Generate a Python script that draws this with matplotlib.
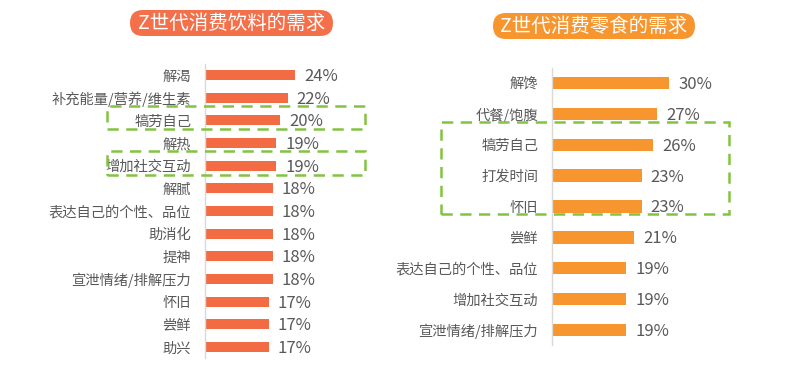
import matplotlib
matplotlib.use("Agg")
import matplotlib.pyplot as plt
from matplotlib.patches import FancyBboxPatch, Rectangle

plt.rcParams['font.family'] = ['Noto Sans CJK SC', 'DejaVu Sans']

# ---- data ----
drink_title = "Z世代消费饮料的需求"
drink_labels = ["解渴", "补充能量/营养/维生素", "犒劳自己", "解热", "增加社交互动", "解腻",
                "表达自己的个性、品位", "助消化", "提神", "宣泄情绪/排解压力", "怀旧", "尝鲜", "助兴"]
drink_values = [24, 22, 20, 19, 19, 18, 18, 18, 18, 18, 17, 17, 17]

snack_title = "Z世代消费零食的需求"
snack_labels = ["解馋", "代餐/饱腹", "犒劳自己", "打发时间", "怀旧", "尝鲜",
                "表达自己的个性、品位", "增加社交互动", "宣泄情绪/排解压力"]
snack_values = [30, 27, 26, 23, 23, 21, 19, 19, 19]

W, H = 800, 384
fig = plt.figure(figsize=(W / 100, H / 100), dpi=100)
fig.patch.set_facecolor("white")

TXT = "#595959"
GREEN = "#82C341"


def px_axes(x0, x1, ytop, ybot):
    return fig.add_axes([x0 / W, 1 - ybot / H, (x1 - x0) / W, (ybot - ytop) / H])


def bar_panel(ax, labels, values, color, xmax, lab_fs, val_fs, height):
    n = len(labels)
    ys = list(range(n))
    ax.barh(ys, values, height=height, color=color, zorder=2)
    ax.set_ylim(n - 0.5, -0.5)
    ax.set_xlim(0, xmax)
    ax.set_yticks(ys)
    ax.set_yticklabels(labels, fontsize=lab_fs, color=TXT)
    ax.tick_params(axis='y', length=0, pad=10)
    ax.set_xticks([])
    for s in ["top", "right", "bottom"]:
        ax.spines[s].set_visible(False)
    ax.spines["left"].set_color("#D9D9D9")
    ax.spines["left"].set_linewidth(1.0)
    ax.patch.set_alpha(0)
    for y, v in zip(ys, values):
        ax.annotate(f"{v}%", (v, y), xytext=(6.5, -1), textcoords="offset points",
                    va="center", ha="left", fontsize=val_fs, color=TXT)


# left panel: axis line at x~205, 3.75 px per %
axL = px_axes(205, 365, 63.7, 358.3)
bar_panel(axL, drink_labels, drink_values, "#F26B43", 160 / 3.75, 10.3, 12, 0.44)

# right panel: axis line at x~552, 3.9 px per %
axR = px_axes(552, 732, 67.6, 345.4)
bar_panel(axR, snack_labels, snack_values, "#F7952F", 180 / 3.9, 10.3, 12, 0.4)

# overlay in pixel coordinates for titles and dashed boxes
ov = fig.add_axes([0, 0, 1, 1], zorder=10)
ov.set_xlim(0, W)
ov.set_ylim(0, H)
ov.axis("off")
ov.patch.set_alpha(0)


def pill(x0, x1, y0, y1, color, text):
    h = y1 - y0
    p = FancyBboxPatch((x0, H - y1), x1 - x0, h,
                       boxstyle=f"round,pad=0,rounding_size={h / 2}",
                       facecolor=color, edgecolor="none")
    ov.add_patch(p)
    ov.text((x0 + x1) / 2, H - (y0 + y1) / 2, text, ha="center", va="center",
            color="white", fontsize=14)


pill(130, 333, 10, 36, "#F4704A", drink_title)
pill(493, 695, 13, 39, "#F7952F", snack_title)


def dbox(x0, x1, y0, y1):
    r = Rectangle((x0, H - y1), x1 - x0, y1 - y0, fill=False, edgecolor=GREEN,
                  linewidth=1.8, linestyle=(0, (4.5, 3)))
    ov.add_patch(r)


dbox(107, 365, 106, 129)
dbox(107, 365, 151, 175)
dbox(441, 729, 122, 214)

fig.savefig("out.png", dpi=100, facecolor="white")
